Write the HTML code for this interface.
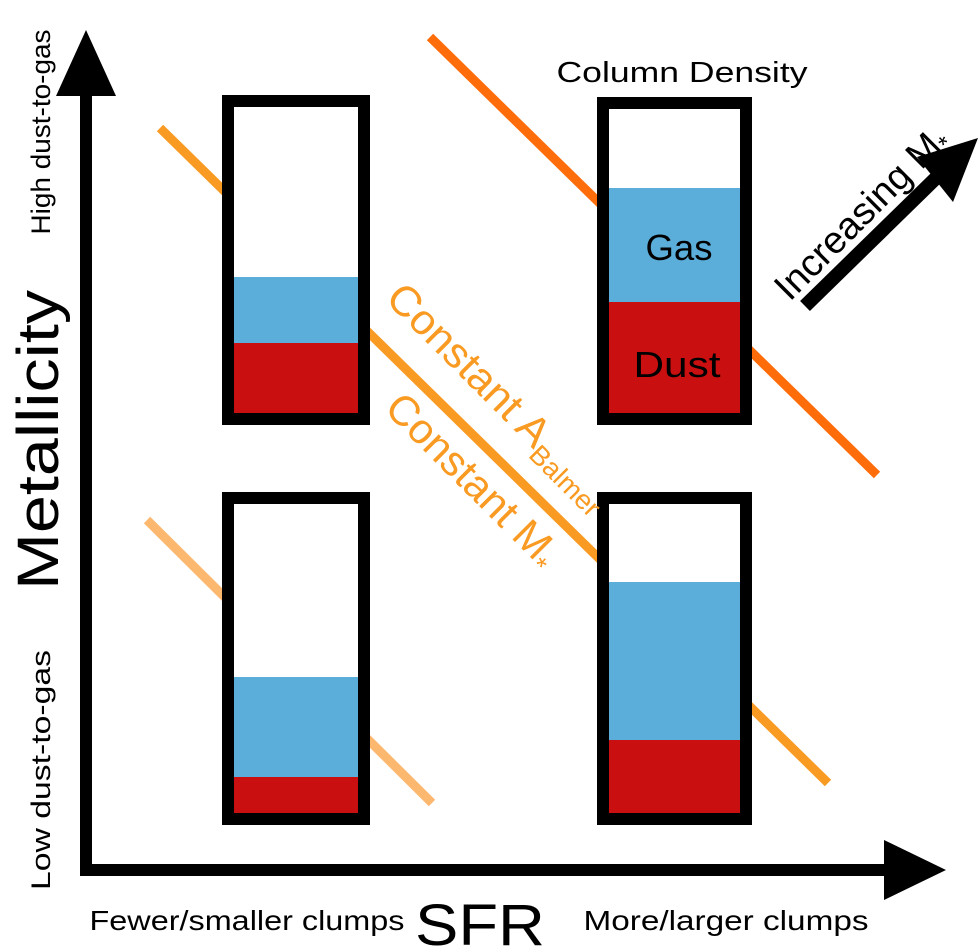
<!DOCTYPE html>
<html><head><style>body{margin:0;background:#fff}svg{display:block}text{font-family:"Liberation Sans",sans-serif}</style></head>
<body>
<svg width="979" height="950" viewBox="0 0 979 950" xmlns="http://www.w3.org/2000/svg">
<line x1="430" y1="37" x2="877" y2="475" stroke="#ff6c0a" stroke-width="9"/>
<line x1="160" y1="128" x2="828" y2="783" stroke="#f99a22" stroke-width="9"/>
<line x1="147" y1="520" x2="432" y2="803" stroke="#fdb870" stroke-width="9"/>
<g>
<rect x="228" y="101" width="136" height="318" fill="#fff"/>
<rect x="228" y="277" width="136" height="66" fill="#5aaed9"/>
<rect x="228" y="343" width="136" height="76" fill="#c90f0f"/>
<rect x="228" y="101" width="136" height="318" fill="none" stroke="#000" stroke-width="12"/>
<rect x="603" y="103" width="143" height="316" fill="#fff"/>
<rect x="603" y="188" width="143" height="114" fill="#5aaed9"/>
<rect x="603" y="302" width="143" height="117" fill="#c90f0f"/>
<rect x="603" y="103" width="143" height="316" fill="none" stroke="#000" stroke-width="12"/>
<rect x="228" y="498" width="136" height="321" fill="#fff"/>
<rect x="228" y="677" width="136" height="100" fill="#5aaed9"/>
<rect x="228" y="777" width="136" height="42" fill="#c90f0f"/>
<rect x="228" y="498" width="136" height="321" fill="none" stroke="#000" stroke-width="12"/>
<rect x="603" y="498" width="143" height="321" fill="#fff"/>
<rect x="603" y="582" width="143" height="158" fill="#5aaed9"/>
<rect x="603" y="740" width="143" height="79" fill="#c90f0f"/>
<rect x="603" y="498" width="143" height="321" fill="none" stroke="#000" stroke-width="12"/>
</g>
<text x="679" y="260" font-size="36" text-anchor="middle" textLength="67" lengthAdjust="spacingAndGlyphs">Gas</text>
<text x="677" y="377" font-size="36" text-anchor="middle" textLength="87" lengthAdjust="spacingAndGlyphs">Dust</text>
<text x="682" y="82" font-size="29" text-anchor="middle" textLength="251" lengthAdjust="spacingAndGlyphs">Column Density</text>
<line x1="86" y1="90" x2="86" y2="876" stroke="#000" stroke-width="12"/>
<polygon points="86,30 56,96 116,96" fill="#000"/>
<line x1="80" y1="870" x2="890" y2="870" stroke="#000" stroke-width="12"/>
<polygon points="946,870 884,840 884,900" fill="#000"/>
<line x1="805" y1="306" x2="938" y2="176" stroke="#000" stroke-width="14"/>
<polygon points="917,157 978,138 953,202" fill="#000"/>
<text transform="translate(870,222) rotate(-45)" font-size="38" text-anchor="middle">Increasing M<tspan font-size="24" dy="6">*</tspan></text>
<text transform="translate(384,300) rotate(45)" font-size="42" fill="#f99a22" textLength="300" lengthAdjust="spacingAndGlyphs">Constant A<tspan font-size="27" dy="9">Balmer</tspan></text>
<text transform="translate(383,410) rotate(45)" font-size="42" fill="#f99a22">Constant M<tspan font-size="27" dy="9">*</tspan></text>
<text transform="translate(58,440) rotate(-90)" font-size="58" text-anchor="middle" textLength="300" lengthAdjust="spacingAndGlyphs">Metallicity</text>
<text transform="translate(50,132) rotate(-90)" font-size="27" text-anchor="middle" textLength="205" lengthAdjust="spacingAndGlyphs">High dust-to-gas</text>
<text transform="translate(50,770) rotate(-90)" font-size="27" text-anchor="middle" textLength="240" lengthAdjust="spacingAndGlyphs">Low dust-to-gas</text>
<text x="480" y="945" font-size="58" text-anchor="middle" textLength="130" lengthAdjust="spacingAndGlyphs">SFR</text>
<text x="247" y="930" font-size="28" text-anchor="middle" textLength="315" lengthAdjust="spacingAndGlyphs">Fewer/smaller clumps</text>
<text x="726" y="930" font-size="28" text-anchor="middle" textLength="285" lengthAdjust="spacingAndGlyphs">More/larger clumps</text>
</svg>
</body></html>
